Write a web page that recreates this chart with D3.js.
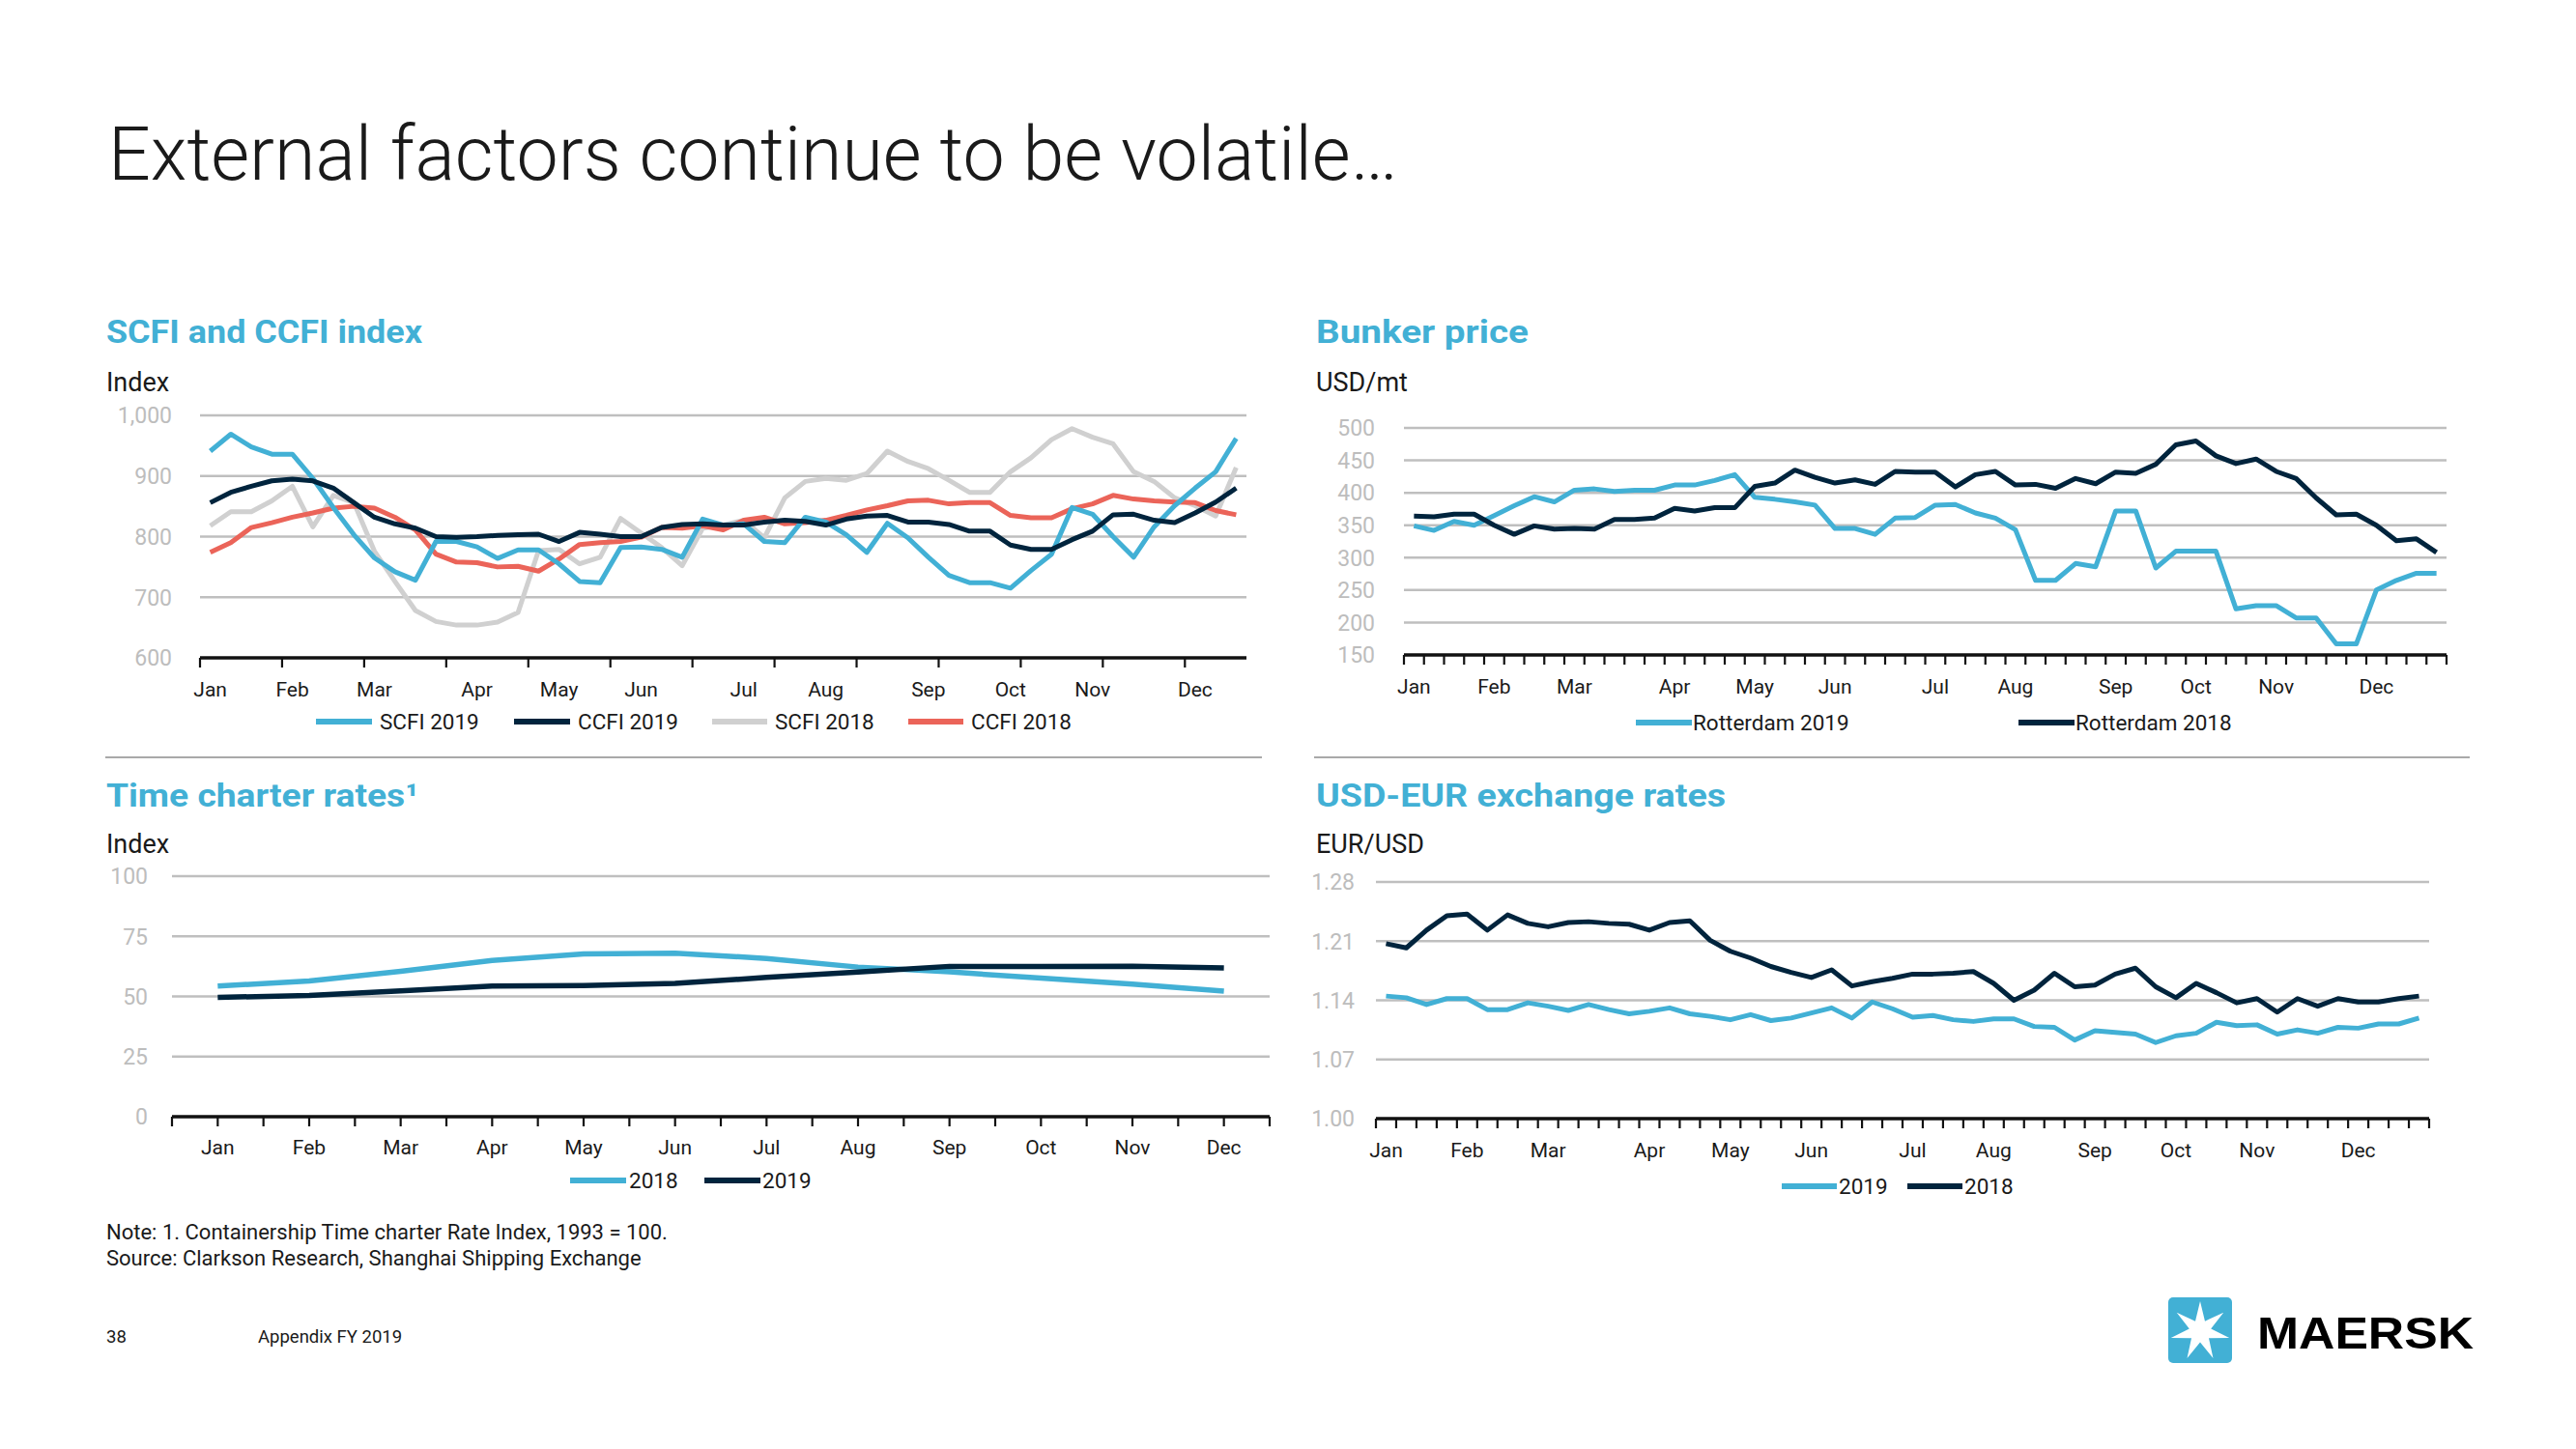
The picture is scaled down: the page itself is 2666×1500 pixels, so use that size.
<!DOCTYPE html>
<html><head><meta charset="utf-8">
<script src="https://cdn.jsdelivr.net/npm/d3@7"></script>
<style>
html,body{margin:0;padding:0;background:#fff;}
svg{display:block;font-family:Roboto,"Noto Sans",sans-serif;}
</style></head>
<body>
<script>
// ---------- DATA ----------
const months = ["Jan","Feb","Mar","Apr","May","Jun","Jul","Aug","Sep","Oct","Nov","Dec"];
const monthWeek = [0,4,8,13,17,21,26,30,35,39,43,48];

const scfi2019 = [941,969,948,936,936,896,848,803,765,742,728,792,792,783,764,778,778,755,726,724,782,783,779,766,829,819,
  821,792,790,832,824,803,774,822,798,766,736,724,724,715,744,771,848,837,800,766,816,851,880,907,962];
const ccfi2019 = [856,873,883,892,895,892,880,856,832,821,814,800,799,800,802,803,804,792,807,804,800,800,815,820,821,819,
  819,824,827,825,819,829,834,835,824,824,820,809,809,786,779,779,795,809,836,837,827,823,839,857,880];
const scfi2018 = [818,841,841,859,883,816,868,856,776,726,678,660,654,654,659,675,777,779,755,766,830,806,782,752,814,819,
  827,798,864,891,896,893,904,941,924,912,893,873,873,907,930,960,978,964,953,907,891,864,851,834,914];
const ccfi2018 = [774,790,815,823,832,839,847,850,847,832,811,771,758,757,750,751,743,763,787,790,792,799,815,814,818,811,
  827,832,821,823,827,835,844,851,859,860,854,856,856,835,831,831,846,854,868,862,859,857,856,843,836];
const scfiTicks = [600,700,800,900,1000];

const rotterdam2019 = [349,342,356,350,365,380,394,386,404,406,402,404,404,412,412,419,428,393,390,386,381,345,345,336,361,362,
  381,382,369,361,343,265,265,291,286,372,372,284,310,310,310,221,226,226,207,207,167,167,250,265,276,276];
const rotterdam2018 = [364,363,367,367,350,336,349,344,345,344,359,359,361,376,372,377,377,410,415,435,424,415,420,413,433,432,
  432,409,428,433,412,413,407,422,414,432,430,444,474,480,457,445,452,433,422,392,366,367,350,326,329,308];
const bunkerTicks = [150,200,250,300,350,400,450,500];

const tc2018 = [54.3,56.4,60.4,65.0,67.7,68.0,65.8,62.2,60.2,57.6,55.1,52.2];
const tc2019 = [49.6,50.4,52.3,54.3,54.5,55.4,57.9,60.1,62.5,62.4,62.6,61.8];
const tcTicks = [0,25,50,75,100];

const fx2019 = [1.145,1.143,1.135,1.142,1.142,1.129,1.129,1.137,1.133,1.128,1.135,1.129,1.124,1.127,1.131,1.124,1.121,1.117,1.123,1.116,1.119,1.125,1.131,1.119,1.138,1.130,
  1.120,1.122,1.117,1.115,1.118,1.118,1.109,1.108,1.093,1.104,1.102,1.100,1.090,1.098,1.101,1.114,1.110,1.111,1.100,1.105,1.101,1.108,1.107,1.112,1.112,1.119];
const fx2018 = [1.207,1.202,1.223,1.240,1.242,1.223,1.241,1.231,1.227,1.232,1.233,1.231,1.230,1.223,1.232,1.234,1.211,1.198,1.190,1.180,1.173,1.167,1.176,1.157,1.162,1.166,
  1.171,1.171,1.172,1.174,1.160,1.140,1.152,1.172,1.156,1.158,1.171,1.178,1.156,1.143,1.160,1.149,1.137,1.142,1.126,1.142,1.133,1.142,1.138,1.138,1.142,1.145];
const fxTicks = [1.00,1.07,1.14,1.21,1.28];

// ---------- STYLE ----------
const BLUE = "#42B0D5", NAVY = "#00243D", GREY = "#D0D0D0", RED = "#EB6459";
const GRID = "#BFBFBF", TICKTXT = "#BDBDBD", TXT = "#1A1A1A";

const svg = d3.select("body").append("svg").attr("width",2666).attr("height",1500);

// Title
svg.append("text").attr("x",112).attr("y",186).attr("font-size",78).attr("font-weight",300)
  .attr("fill",TXT).attr("textLength",1335).attr("lengthAdjust","spacingAndGlyphs")
  .text("External factors continue to be volatile…");

function panelHeader(x, yTitle, title, tlen, unit, yUnit){
  svg.append("text").attr("x",x).attr("y",yTitle).attr("font-size",33).attr("font-weight",700)
    .attr("fill",BLUE).attr("textLength",tlen).attr("lengthAdjust","spacingAndGlyphs").text(title);
  svg.append("text").attr("x",x).attr("y",yUnit).attr("font-size",27).attr("fill",TXT).text(unit);
}
panelHeader(110,355,"SCFI and CCFI index",327,"Index",405);
panelHeader(1362,355,"Bunker price",220,"USD/mt",405);
panelHeader(110,835,"Time charter rates¹",323,"Index",883);
panelHeader(1362,835,"USD-EUR exchange rates",424,"EUR/USD",883);

// separators
svg.append("line").attr("x1",109).attr("x2",1306).attr("y1",784).attr("y2",784).attr("stroke","#8C8C8C").attr("stroke-width",1.5);
svg.append("line").attr("x1",1360).attr("x2",2556).attr("y1",784).attr("y2",784).attr("stroke","#8C8C8C").attr("stroke-width",1.5);

function drawPanel(o){
  const g = svg.append("g");
  const x = d3.scaleBand().domain(d3.range(o.n)).range(o.xr).paddingInner(0).paddingOuter(0);
  const y = d3.scaleLinear().domain(o.yd).range(o.yr);
  const cx = i => x(i) + x.bandwidth()/2;
  // grid
  g.selectAll(".gl").data(o.ticks.slice(1)).enter().append("line")
    .attr("x1",o.xr[0]).attr("x2",o.xr[1]).attr("y1",d=>y(d)).attr("y2",d=>y(d))
    .attr("stroke",GRID).attr("stroke-width",2.5);
  // y labels
  g.selectAll(".yl").data(o.ticks).enter().append("text")
    .attr("x",o.ylx).attr("y",d=>y(d)).attr("dy","0.36em").attr("text-anchor","end")
    .attr("font-size",23).attr("fill",TICKTXT).text(o.fmt);
  // lines
  const line = d3.line().x((d,i)=>cx(i)).y(d=>y(d));
  o.series.forEach(s=>{
    g.append("path").datum(s.data).attr("d",line).attr("fill","none")
      .attr("stroke",s.color).attr("stroke-width",o.lw).attr("stroke-linejoin","round");
  });
  // axis
  const y0 = y(o.yd[0]);
  g.append("line").attr("x1",o.xr[0]).attr("x2",o.xr[1]).attr("y1",y0).attr("y2",y0)
    .attr("stroke","#111").attr("stroke-width",3.5);
  g.selectAll(".tk").data(o.tickPos(x)).enter().append("line")
    .attr("x1",d=>d).attr("x2",d=>d).attr("y1",y0).attr("y2",y0+10)
    .attr("stroke","#111").attr("stroke-width",2.2);
  // month labels
  g.selectAll(".ml").data(o.labels).enter().append("text")
    .attr("x",d=>cx(d.i)).attr("y",o.mly).attr("text-anchor","middle")
    .attr("font-size",21).attr("fill",TXT).text(d=>d.t);
  // legend
  o.legend.forEach(l=>{
    g.append("line").attr("x1",l.x0).attr("x2",l.x1).attr("y1",o.legY).attr("y2",o.legY)
      .attr("stroke",l.color).attr("stroke-width",6);
    g.append("text").attr("x",l.tx).attr("y",o.legY).attr("dy","0.36em").attr("font-size",22.5)
      .attr("fill",TXT).text(l.t);
  });
}

const weekLabels = months.map((m,k)=>({t:m,i:monthWeek[k]}));

// Panel 1
drawPanel({
  n: scfi2019.length, xr:[207,1290], yd:[600,1000], yr:[681,430], ticks:scfiTicks,
  fmt: d3.format(","), ylx:178, lw:5,
  series:[{data:scfi2018,color:GREY},{data:ccfi2018,color:RED},{data:scfi2019,color:BLUE},{data:ccfi2019,color:NAVY}],
  tickPos: x => d3.range(0,49,4).map(i=>x(i)),
  labels: weekLabels, mly:721, legY:747,
  legend:[{x0:327,x1:385,tx:393,t:"SCFI 2019",color:BLUE},{x0:532,x1:590,tx:598,t:"CCFI 2019",color:NAVY},
          {x0:737,x1:794,tx:802,t:"SCFI 2018",color:GREY},{x0:940,x1:997,tx:1005,t:"CCFI 2018",color:RED}]
});

// Panel 2
drawPanel({
  n: rotterdam2019.length, xr:[1453,2532], yd:[150,500], yr:[678,443], ticks:bunkerTicks,
  fmt: d3.format("d"), ylx:1423, lw:5,
  series:[{data:rotterdam2019,color:BLUE},{data:rotterdam2018,color:NAVY}],
  tickPos: x => d3.range(0,53).map(i=> i<52 ? x(i) : x(51)+x.bandwidth()),
  labels: weekLabels, mly:718, legY:748,
  legend:[{x0:1693,x1:1751,tx:1752,t:"Rotterdam 2019",color:BLUE},{x0:2089,x1:2147,tx:2148,t:"Rotterdam 2018",color:NAVY}]
});

// Panel 3
drawPanel({
  n: tc2018.length, xr:[178,1314], yd:[0,100], yr:[1156,907], ticks:tcTicks,
  fmt: d3.format("d"), ylx:153, lw:5.5,
  series:[{data:tc2018,color:BLUE},{data:tc2019,color:NAVY}],
  tickPos: x => d3.range(0,25).map(k=> x.range()[0] + k*x.bandwidth()/2),
  labels: months.map((m,i)=>({t:m,i:i})), mly:1195, legY:1222,
  legend:[{x0:590,x1:648,tx:651,t:"2018",color:BLUE},{x0:729,x1:787,tx:789,t:"2019",color:NAVY}]
});

// Panel 4
drawPanel({
  n: fx2019.length, xr:[1424,2514], yd:[1.00,1.28], yr:[1158,913], ticks:fxTicks,
  fmt: d3.format(".2f"), ylx:1402, lw:5,
  series:[{data:fx2019,color:BLUE},{data:fx2018,color:NAVY}],
  tickPos: x => d3.range(0,53).map(i=> i<52 ? x(i) : x(51)+x.bandwidth()),
  labels: weekLabels, mly:1198, legY:1228,
  legend:[{x0:1844,x1:1901,tx:1903,t:"2019",color:BLUE},{x0:1974,x1:2031,tx:2033,t:"2018",color:NAVY}]
});

// Footnotes
svg.append("text").attr("x",110).attr("y",1283).attr("font-size",22).attr("fill",TXT)
  .text("Note: 1. Containership Time charter Rate Index, 1993 = 100.");
svg.append("text").attr("x",110).attr("y",1310).attr("font-size",22).attr("fill",TXT)
  .text("Source: Clarkson Research, Shanghai Shipping Exchange");
svg.append("text").attr("x",110).attr("y",1390).attr("font-size",18.5).attr("fill",TXT).text("38");
svg.append("text").attr("x",267).attr("y",1390).attr("font-size",18.5).attr("fill",TXT).text("Appendix FY 2019");

// Logo
svg.append("rect").attr("x",2244).attr("y",1343).attr("width",66).attr("height",68).attr("rx",5).attr("fill",BLUE);
const starPts = d3.range(14).map(k=>{
  const r = k%2===0 ? 31 : 11.5;
  const a = -Math.PI/2 + k*Math.PI/7;
  return [2277 + r*Math.cos(a), 1378 + r*Math.sin(a)];
});
svg.append("polygon").attr("points",starPts.map(p=>p.join(",")).join(" ")).attr("fill","#fff");
svg.append("text").attr("x",2336).attr("y",1396).attr("font-family","'Liberation Sans',Arial,sans-serif")
  .attr("font-size",46).attr("font-weight",900).attr("fill","#000")
  .attr("textLength",224).attr("lengthAdjust","spacingAndGlyphs").text("MAERSK");
</script>
</body></html>
